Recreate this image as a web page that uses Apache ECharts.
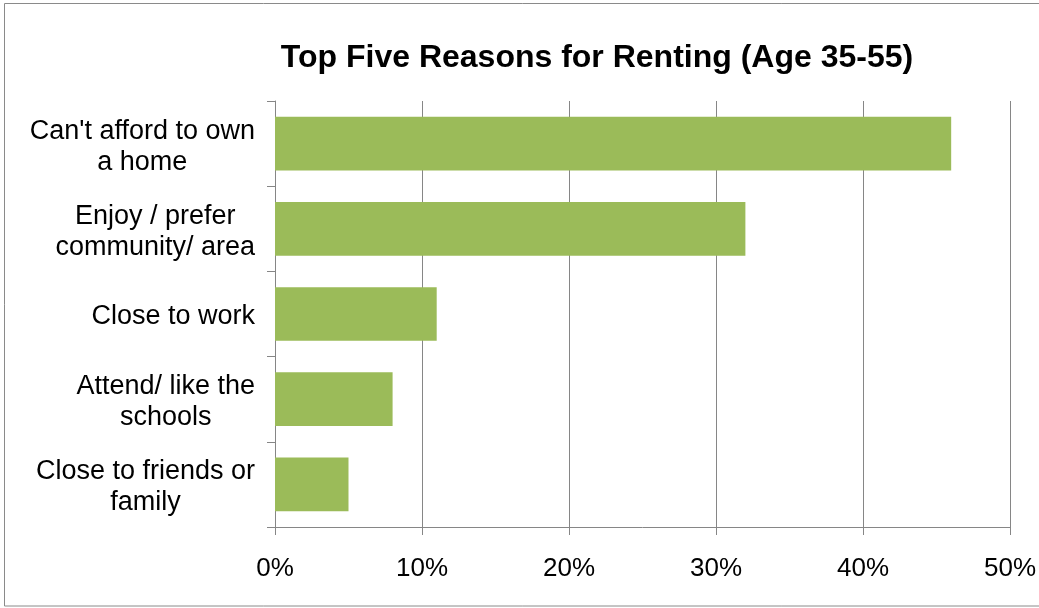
<!DOCTYPE html>
<html>
<head>
<meta charset="utf-8">
<script src="https://cdn.jsdelivr.net/npm/echarts@6/dist/echarts.min.js"></script>
<style>html,body{margin:0;padding:0;background:#fff;}#c{width:1039px;height:608px;}</style>
</head>
<body>
<div id="c"></div>
<script>
const titleText = 'Top Five Reasons for Renting (Age 35-55)';
const categories = [
  "Can't afford to own\na home",
  "Enjoy / prefer\ncommunity/ area",
  "Close to work",
  "Attend/ like the\nschools",
  "Close to friends or\nfamily"
];
const values = [46, 32, 11, 8, 5];
const xTicks = [0, 10, 20, 30, 40, 50];

const chart = echarts.init(document.getElementById('c'), null, {renderer: 'canvas'});
const font = 'Liberation Sans, Arial, sans-serif';
chart.setOption({
  animation: false,
  backgroundColor: '#ffffff',
  title: {
    text: titleText,
    left: 592, top: 37, textAlign: 'center',
    textStyle: {fontFamily: font, fontSize: 32, fontWeight: 'bold', color: '#000'}
  },
  graphic: [{
    type: 'rect', silent: true, z: -1,
    shape: {x: 4.5, y: 3.5, width: 1040, height: 602.5},
    style: {fill: 'none', stroke: '#8a8a8a', lineWidth: 1}
  }],
  grid: {left: 275, right: 27, top: 101, bottom: 81},
  xAxis: {
    type: 'value', min: xTicks[0], max: xTicks[xTicks.length - 1], interval: 10,
    axisLine: {show: true, lineStyle: {color: '#868686', width: 1}},
    axisTick: {show: true, length: 8, lineStyle: {color: '#868686'}},
    splitLine: {show: true, lineStyle: {color: '#868686', width: 1}},
    axisLabel: {
      formatter: v => v + '%', margin: 29,
      fontFamily: font, fontSize: 26, color: '#000'
    }
  },
  yAxis: {
    type: 'category', data: categories, inverse: true,
    axisLine: {show: true, lineStyle: {color: '#868686', width: 1}},
    axisTick: {show: true, length: 8, alignWithLabel: false, lineStyle: {color: '#868686'}},
    splitLine: {show: false},
    axisLabel: {
      margin: 20, align: 'right', padding: [6, 0, 0, 0],
      formatter: v => v.split('\n').map(l => '{c|' + l + '}').join('\n'),
      rich: {c: {align: 'center', fontFamily: font, fontSize: 27, lineHeight: 31, color: '#000'}}
    }
  },
  series: [{
    type: 'bar', data: values, barCategoryGap: '37%',
    itemStyle: {color: '#9BBB59'}
  }]
});
</script>
</body>
</html>
